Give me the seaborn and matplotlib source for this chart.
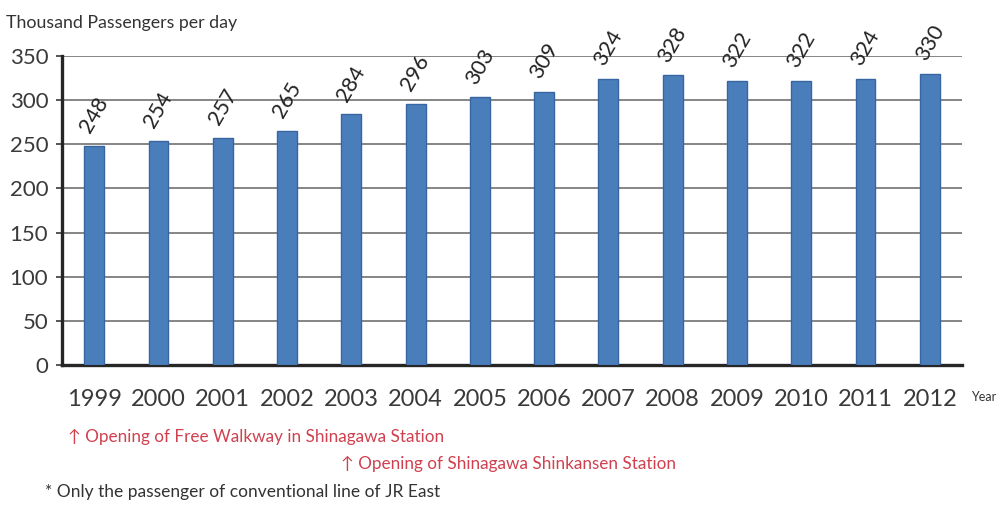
import matplotlib
matplotlib.use("Agg")
import matplotlib.pyplot as plt
import seaborn as sns
import pandas as pd

years = ["1999", "2000", "2001", "2002", "2003", "2004", "2005",
         "2006", "2007", "2008", "2009", "2010", "2011", "2012"]
passengers = [248, 254, 257, 265, 284, 296, 303, 309, 324, 328, 322, 322, 324, 330]
y_ticks = [0, 50, 100, 150, 200, 250, 300, 350]

sns.set_theme(style="white")
plt.rcParams["font.family"] = ["Lato", "DejaVu Sans"]

df = pd.DataFrame({"Year": years, "Passengers": passengers})

fig = plt.figure(figsize=(10.02, 5.09), dpi=100)
ax = fig.add_axes([0.062, 0.283, 0.898, 0.607])

sns.barplot(data=df, x="Year", y="Passengers", ax=ax, color="#4a7ebb",
            width=0.31, saturation=1, edgecolor="#3765a0", linewidth=1, zorder=3)

ax.set_ylim(0, 350)
ax.set_xlim(-0.5, len(years) - 0.5)
ax.set_yticks(y_ticks)
ax.yaxis.grid(True, color="#858585", linewidth=1.4, zorder=0)
ax.set_axisbelow(True)

for s in ["top", "right"]:
    ax.spines[s].set_visible(False)
for s in ["left", "bottom"]:
    ax.spines[s].set_color("#262626")
    ax.spines[s].set_linewidth(2.4)

ax.tick_params(axis="y", labelsize=16, colors="#3a3a3a", length=4, width=1.2,
               direction="out", pad=6, left=True)
ax.tick_params(axis="x", labelsize=17, colors="#3a3a3a", length=0, pad=17)
ax.set_xlabel("")
ax.set_ylabel("")

for i, v in enumerate(passengers):
    ax.annotate(str(v), xy=(i, v), xytext=(0, 7), textcoords="offset points",
                ha="center", va="bottom", rotation=60, fontsize=15.5,
                color="#222222", annotation_clip=False)

fig.text(0.006, 0.955, "Thousand Passengers per day", fontsize=12.8,
         color="#333333", ha="left", va="center")
fig.text(0.969, 0.22, "Year", fontsize=9, color="#333333", ha="left", va="center")
fig.text(0.068, 0.141, "\u2191 Opening of Free Walkway in Shinagawa Station",
         fontsize=12.3, color="#d0404f", ha="left", va="center")
fig.text(0.340, 0.089, "\u2191 Opening of Shinagawa Shinkansen Station",
         fontsize=12.3, color="#d0404f", ha="left", va="center")
fig.text(0.045, 0.033, "* Only the passenger of conventional line of JR East",
         fontsize=12.5, color="#333333", ha="left", va="center")

fig.savefig("out.png", dpi=100)
